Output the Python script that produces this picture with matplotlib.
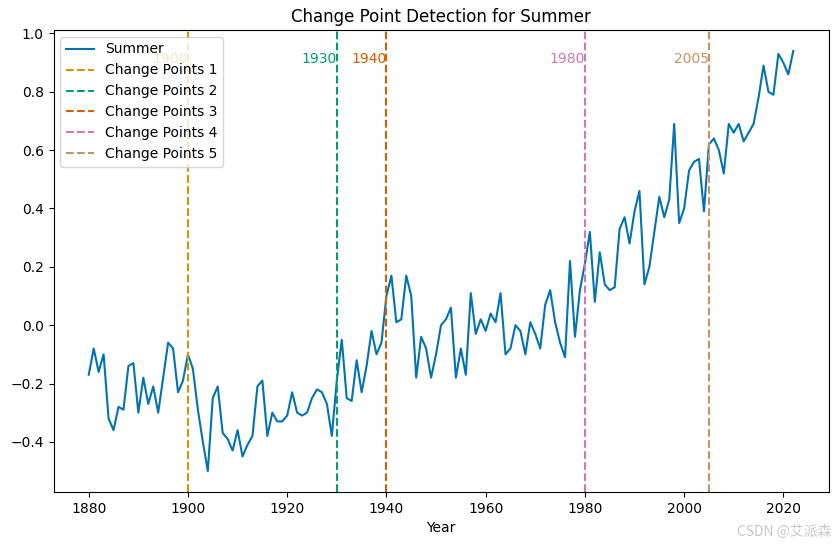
import matplotlib.pyplot as plt
import numpy as np

years = list(range(1880, 2023))
summer = [
    -0.17, -0.08, -0.16, -0.10, -0.32, -0.36, -0.28, -0.29, -0.14, -0.13,  # 1880s
    -0.30, -0.18, -0.27, -0.21, -0.30, -0.18, -0.06, -0.08, -0.23, -0.19,  # 1890s
    -0.10, -0.15, -0.29, -0.40, -0.50, -0.25, -0.21, -0.37, -0.39, -0.43,  # 1900s
    -0.36, -0.45, -0.41, -0.38, -0.21, -0.19, -0.38, -0.30, -0.33, -0.33,  # 1910s
    -0.31, -0.23, -0.30, -0.31, -0.30, -0.25, -0.22, -0.23, -0.27, -0.38,  # 1920s
    -0.19, -0.05, -0.25, -0.26, -0.12, -0.23, -0.14, -0.02, -0.10, -0.06,  # 1930s
    0.10, 0.17, 0.01, 0.02, 0.17, 0.10, -0.18, -0.04, -0.08, -0.18,  # 1940s
    -0.10, 0.00, 0.02, 0.06, -0.18, -0.08, -0.17, 0.11, -0.03, 0.02,  # 1950s
    -0.02, 0.04, 0.01, 0.11, -0.10, -0.08, 0.00, -0.02, -0.10, 0.01,  # 1960s
    -0.03, -0.08, 0.07, 0.12, 0.01, -0.06, -0.11, 0.22, -0.04, 0.12,  # 1970s
    0.21, 0.32, 0.08, 0.25, 0.14, 0.12, 0.13, 0.33, 0.37, 0.28,  # 1980s
    0.39, 0.46, 0.14, 0.20, 0.32, 0.44, 0.37, 0.43, 0.69, 0.35,  # 1990s
    0.40, 0.53, 0.56, 0.57, 0.39, 0.62, 0.64, 0.60, 0.52, 0.69,  # 2000s
    0.66, 0.69, 0.63, 0.66, 0.69, 0.78, 0.89, 0.80, 0.79, 0.93,  # 2010s
    0.90, 0.86, 0.94,  # 2020s
]
change_points = [1900, 1930, 1940, 1980, 2005]

# seaborn colorblind palette
palette = ['#0173B2', '#DE8F05', '#029E73', '#D55E00', '#CC78BC', '#CA9161']

fig = plt.figure(figsize=(8.38, 5.45), dpi=100)
ax = fig.add_axes([53.5 / 838, 53 / 545, 775 / 838, 462 / 545])

ax.plot(years, summer, color=palette[0], linewidth=1.5, label='Summer')
for i, cp in enumerate(change_points):
    c = palette[i + 1]
    ax.axvline(cp, color=c, linestyle='--', label=f'Change Points {i + 1}')
    ax.text(cp, 0.9, str(cp), color=c, ha='right')

ax.set_title('Change Point Detection for Summer')
ax.set_xlabel('Year')
ax.legend(loc='upper left')

# watermark
fig.text(0.992, 0.012, 'CSDN @艾派森', ha='right', va='bottom', color='#bbbbbb',
         fontsize=10, family=['Noto Sans CJK SC', 'DejaVu Sans'], alpha=0.8)

plt.savefig('out.png', dpi=100)
